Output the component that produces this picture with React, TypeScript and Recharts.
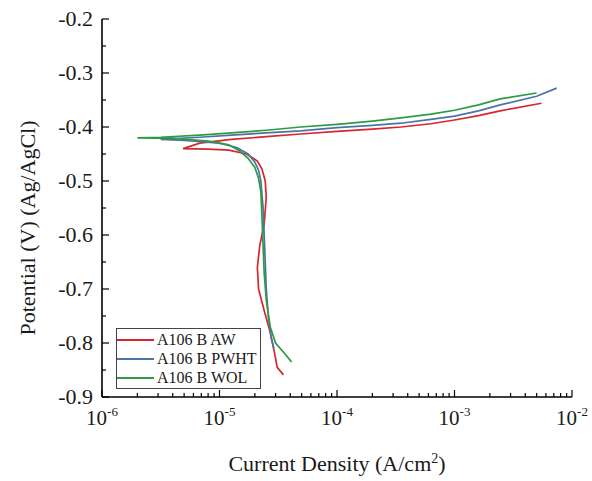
import { LineChart, Line, XAxis, YAxis, Label } from "recharts";

// Tafel curves: current density (A/cm2) vs potential (V vs Ag/AgCl)
const awCurrent = [3.5e-5, 3.1e-5, 2.95e-5, 2.7e-5, 2.4e-5, 2.15e-5, 2.1e-5, 2.2e-5, 2.4e-5, 2.5e-5, 2.45e-5, 2.3e-5, 2.1e-5, 1.7e-5, 1.2e-5, 8e-6, 4.9e-6, 6.8e-6, 1.26e-5, 2.5e-5, 4.9e-5, 1e-4, 2e-4, 3.5e-4, 6.3e-4, 1e-3, 1.6e-3, 2.45e-3, 5.5e-3];
const awPotential = [-0.859, -0.845, -0.82, -0.78, -0.74, -0.7, -0.66, -0.62, -0.58, -0.53, -0.5, -0.478, -0.463, -0.45, -0.443, -0.441, -0.44, -0.43, -0.423, -0.418, -0.413, -0.408, -0.404, -0.4, -0.394, -0.387, -0.379, -0.37, -0.356];

const pwhtCurrent = [2.9e-5, 2.75e-5, 2.6e-5, 2.5e-5, 2.45e-5, 2.4e-5, 2.35e-5, 2.25e-5, 2.15e-5, 2.0e-5, 1.75e-5, 1.4e-5, 1e-5, 5e-6, 3.16e-6, 6.8e-6, 1.26e-5, 2.5e-5, 4.9e-5, 1e-4, 2e-4, 3.5e-4, 6.3e-4, 1e-3, 1.6e-3, 2.45e-3, 5e-3, 7.4e-3];
const pwhtPotential = [-0.81, -0.79, -0.75, -0.7, -0.65, -0.6, -0.55, -0.5, -0.48, -0.465, -0.45, -0.438, -0.43, -0.425, -0.423, -0.419, -0.415, -0.411, -0.407, -0.401, -0.397, -0.393, -0.386, -0.38, -0.37, -0.359, -0.343, -0.328];

const wolCurrent = [4.1e-5, 3.6e-5, 3.0e-5, 2.7e-5, 2.5e-5, 2.4e-5, 2.35e-5, 2.3e-5, 2.25e-5, 2.15e-5, 2.0e-5, 1.75e-5, 1.5e-5, 1.2e-5, 8e-6, 4e-6, 2e-6, 3.16e-6, 6.8e-6, 1.26e-5, 2.5e-5, 4.9e-5, 1e-4, 2e-4, 3.5e-4, 6.3e-4, 1e-3, 1.6e-3, 2.45e-3, 5e-3];
const wolPotential = [-0.835, -0.82, -0.8, -0.77, -0.72, -0.67, -0.62, -0.57, -0.52, -0.495, -0.475, -0.458, -0.445, -0.433, -0.426, -0.421, -0.42, -0.419, -0.415, -0.411, -0.406, -0.4, -0.395, -0.389, -0.383, -0.376, -0.369, -0.359, -0.348, -0.337];

const xTicks = [
  1e-6, 2e-6, 3e-6, 4e-6, 5e-6, 6e-6, 7e-6, 8e-6, 9e-6,
  1e-5, 2e-5, 3e-5, 4e-5, 5e-5, 6e-5, 7e-5, 8e-5, 9e-5,
  1e-4, 2e-4, 3e-4, 4e-4, 5e-4, 6e-4, 7e-4, 8e-4, 9e-4,
  1e-3, 2e-3, 3e-3, 4e-3, 5e-3, 6e-3, 7e-3, 8e-3, 9e-3,
  1e-2,
];
const yTicks = [-0.9, -0.85, -0.8, -0.75, -0.7, -0.65, -0.6, -0.55, -0.5, -0.45, -0.4, -0.35, -0.3, -0.25, -0.2];

const seriesNames = ["A106 B AW", "A106 B PWHT", "A106 B WOL"];
const seriesColors = ["#d8262e", "#4b74a6", "#2e9a44"];

const zip = (xs: number[], ys: number[]) => xs.map((x, i) => ({ x, y: ys[i] }));
const series = [
  zip(awCurrent, awPotential),
  zip(pwhtCurrent, pwhtPotential),
  zip(wolCurrent, wolPotential),
];

const FONT = '"Liberation Serif", "Times New Roman", serif';
const TEXT = "#1a1a1a";

const XTick = (props: any) => {
  const { x, y, payload } = props;
  const lg = Math.log10(payload.value);
  const e = Math.round(lg);
  const major = Math.abs(lg - e) < 1e-6;
  return (
    <g>
      <line x1={x} x2={x} y1={y} y2={y - (major ? 7 : 4)} stroke="#000" strokeWidth={1.2} />
      {major && (
        <text x={x} y={y + 28} textAnchor="middle" fontSize={21} fontFamily={FONT} fill={TEXT}>
          <tspan>10</tspan>
          <tspan dy={-9} fontSize={13}>{e}</tspan>
        </text>
      )}
    </g>
  );
};

const YTick = (props: any) => {
  const { x, y, payload } = props;
  const v = payload.value;
  const major = Math.abs(v * 10 - Math.round(v * 10)) < 1e-6;
  return (
    <g>
      <line x1={x} x2={x + (major ? 7 : 4)} y1={y} y2={y} stroke="#000" strokeWidth={1.2} />
      {major && (
        <text x={x - 9} y={y + 7} textAnchor="end" fontSize={22} fontFamily={FONT} fill={TEXT}>
          {v.toFixed(1)}
        </text>
      )}
    </g>
  );
};

const LegendBox = () => (
  <div
    style={{
      position: "absolute",
      left: 116,
      top: 328,
      border: "1px solid #444",
      background: "#fff",
      padding: "1px 3px 1px 0",
      fontFamily: FONT,
      fontSize: 16,
      color: TEXT,
      lineHeight: "19px",
    }}
  >
    {seriesNames.map((n, i) => (
      <div key={n} style={{ display: "flex", alignItems: "center" }}>
        <span style={{ display: "inline-block", width: 37, height: 2, background: seriesColors[i], marginRight: 3 }} />
        <span>{n}</span>
      </div>
    ))}
  </div>
);

export default function App() {
  return (
    <div style={{ position: "absolute", left: 0, top: 0, width: 592, height: 481, background: "#fff" }}>
      <LineChart width={592} height={481} margin={{ top: 19, right: 20, left: 12, bottom: 0 }}>
        <XAxis
          dataKey="x"
          type="number"
          scale="log"
          domain={[1e-6, 1e-2]}
          ticks={xTicks}
          allowDataOverflow
          height={84}
          tickSize={0}
          tickMargin={0}
          tickLine={false}
          axisLine={{ stroke: "#000", strokeWidth: 1.6 }}
          tick={<XTick />}
          interval={0}
        >
          <Label
            content={(p: any) => {
              const vb = p.viewBox;
              return (
                <text x={vb.x + vb.width / 2} y={vb.y + 74} textAnchor="middle" fontSize={22} fontFamily={FONT} fill={TEXT}>
                  <tspan>Current Density (A/cm</tspan>
                  <tspan dy={-8} fontSize={14}>2</tspan>
                  <tspan dy={8}>)</tspan>
                </text>
              );
            }}
          />
        </XAxis>
        <XAxis
          xAxisId="top"
          orientation="top"
          type="number"
          scale="log"
          domain={[1e-6, 1e-2]}
          height={0}
          tick={false}
          tickLine={false}
          axisLine={{ stroke: "#000", strokeWidth: 1.6 }}
        />
        <YAxis
          dataKey="y"
          type="number"
          domain={[-0.9, -0.2]}
          ticks={yTicks}
          width={90}
          tickSize={0}
          tickMargin={0}
          tickLine={false}
          axisLine={{ stroke: "#000", strokeWidth: 1.6 }}
          tick={<YTick />}
          interval={0}
        >
          <Label
            content={(p: any) => {
              const vb = p.viewBox;
              const cx = vb.x + 23;
              const cy = vb.y + vb.height / 2 + 20;
              return (
                <text x={cx} y={cy} transform={`rotate(-90 ${cx} ${cy})`} textAnchor="middle" fontSize={22} fontFamily={FONT} fill={TEXT}>
                  Potential (V) (Ag/AgCl)
                </text>
              );
            }}
          />
        </YAxis>
        <YAxis
          yAxisId="right"
          orientation="right"
          type="number"
          domain={[-0.9, -0.2]}
          width={0}
          tick={false}
          tickLine={false}
          axisLine={{ stroke: "#000", strokeWidth: 1.6 }}
        />
        {series.map((d, i) => (
          <Line
            key={seriesNames[i]}
            data={d}
            dataKey="y"
            name={seriesNames[i]}
            type="linear"
            stroke={seriesColors[i]}
            strokeWidth={1.7}
            dot={false}
            isAnimationActive={false}
          />
        ))}
      </LineChart>
      <LegendBox />
    </div>
  );
}
